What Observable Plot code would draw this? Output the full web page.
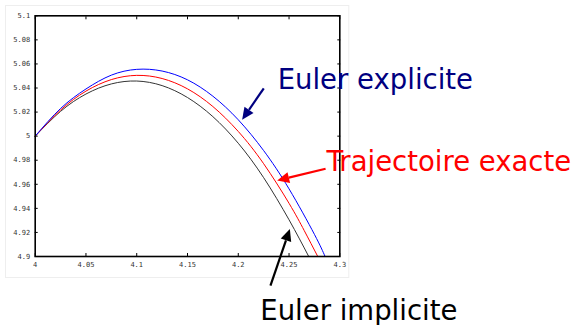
<!DOCTYPE html>
<html>
<head>
<meta charset="utf-8">
<script src="https://cdn.jsdelivr.net/npm/d3@7"></script>
<script src="https://cdn.jsdelivr.net/npm/@observablehq/plot@0.6"></script>
<style>
  html, body { margin: 0; padding: 0; background: #fff; }
  #chart svg { display: block; }
</style>
</head>
<body>
<div id="chart"></div>
<script>
// Data
const xExplicite = [4.000, 4.025, 4.050, 4.075, 4.100, 4.125, 4.150, 4.175, 4.200, 4.225, 4.250, 4.275, 4.2855];
const yExplicite = [5.0000, 5.0230, 5.0392, 5.0507, 5.0555, 5.0541, 5.0468, 5.0332, 5.0136, 4.9880, 4.9562, 4.9184, 4.9000];

const xExacte = [4.000, 4.025, 4.050, 4.075, 4.100, 4.125, 4.150, 4.175, 4.200, 4.225, 4.250, 4.265, 4.2783];
const yExacte = [5.0000, 5.0217, 5.0374, 5.0470, 5.0505, 5.0479, 5.0393, 5.0246, 5.0039, 4.9771, 4.9442, 4.9215, 4.9000];

const xImplicite = [4.000, 4.025, 4.050, 4.075, 4.100, 4.125, 4.150, 4.175, 4.200, 4.225, 4.250, 4.2694];
const yImplicite = [5.0000, 5.0206, 5.0350, 5.0434, 5.0458, 5.0420, 5.0321, 5.0162, 4.9941, 4.9655, 4.9305, 4.9000];

const xTicks = [4, 4.05, 4.1, 4.15, 4.2, 4.25, 4.3];
const yTicks = [4.9, 4.92, 4.94, 4.96, 4.98, 5, 5.02, 5.04, 5.06, 5.08, 5.1];

// Annotations (data coordinates)
const labelTexts = ["Euler explicite", "Trajectoire exacte", "Euler implicite"];
const labelX = [4.2388, 4.2870, 4.2217];
const labelY = [5.0461, 4.9780, 4.8544];
const labelColors = ["#000080", "#ff0000", "#000000"];
const arrowX1 = [4.2256, 4.2865, 4.2322];
const arrowY1 = [5.0392, 4.9725, 4.8753];
const arrowX2 = [4.2043, 4.2388, 4.2513];
const arrowY2 = [5.0133, 4.9628, 4.9225];

const toRows = (xs, ys) => xs.map((x, i) => ({x, y: ys[i]}));
const labels = labelTexts.map((t, i) => ({text: t, x: labelX[i], y: labelY[i], color: labelColors[i]}));
const arrows = labelTexts.map((t, i) => ({x1: arrowX1[i], y1: arrowY1[i], x2: arrowX2[i], y2: arrowY2[i], color: labelColors[i]}));

const fmt = d => String(+d.toFixed(2));
const tickFont = {fontSize: 7, fontFamily: "DejaVu Sans Mono"};

function filledArrows(index, scales, values, dimensions, context) {
  const g = d3.create("svg:g");
  for (const i of index) {
    const X1 = values.x1[i], Y1 = values.y1[i], X2 = values.x2[i], Y2 = values.y2[i];
    const c = arrows[i].color;
    const a = Math.atan2(Y2 - Y1, X2 - X1);
    const L = 12, W = 5.5;
    const bx = X2 - L * Math.cos(a), by = Y2 - L * Math.sin(a);
    g.append("line").attr("x1", X1).attr("y1", Y1).attr("x2", bx).attr("y2", by)
      .attr("stroke", c).attr("stroke-width", 2.2);
    const px = -Math.sin(a), py = Math.cos(a);
    g.append("path")
      .attr("d", `M${X2},${Y2}L${bx + W * px},${by + W * py}L${bx - W * px},${by - W * py}Z`)
      .attr("fill", c);
  }
  return g.node();
}

const chart = Plot.plot({
  width: 579,
  height: 325,
  marginLeft: 34.7,
  marginRight: 239.7,
  marginTop: 15.3,
  marginBottom: 69,
  style: {background: "#fff", overflow: "visible"},
  x: {domain: [4, 4.3]},
  y: {domain: [4.9, 5.1]},
  marks: [
    Plot.frame({stroke: "#eeeeee", strokeWidth: 1, insetLeft: -29.7, insetTop: -10.3, insetRight: -9, insetBottom: -21}),
    Plot.line(toRows(xImplicite, yImplicite), {x: "x", y: "y", stroke: "#333333", strokeWidth: 1, curve: "natural"}),
    Plot.line(toRows(xExacte, yExacte), {x: "x", y: "y", stroke: "#ff0000", strokeWidth: 1, curve: "natural"}),
    Plot.line(toRows(xExplicite, yExplicite), {x: "x", y: "y", stroke: "#0000ff", strokeWidth: 1, curve: "natural"}),
    // inward ticks on all sides
    Plot.axisY(yTicks, {anchor: "left", tickSize: 3, dx: 3, text: null, stroke: "black"}),
    Plot.axisY(yTicks, {anchor: "right", tickSize: 3, dx: -3, text: null, stroke: "black"}),
    Plot.axisX(xTicks, {anchor: "bottom", tickSize: 3, dy: -3, text: null, stroke: "black"}),
    Plot.axisX(xTicks, {anchor: "top", tickSize: 3, dy: 3, text: null, stroke: "black"}),
    // labels
    Plot.axisY(yTicks, {anchor: "left", tickSize: 0, tickPadding: 5, tickFormat: fmt, label: null, fill: "#333", ...tickFont}),
    Plot.axisX(xTicks, {anchor: "bottom", tickSize: 0, tickPadding: 6, tickFormat: fmt, label: null, fill: "#333", ...tickFont}),
    Plot.frame({stroke: "black", strokeWidth: 1.6}),
    Plot.text(labels, {x: "x", y: "y", text: "text", fill: "color", textAnchor: "start", lineAnchor: "middle", fontSize: 27.5, fontFamily: "DejaVu Sans", clip: false}),
    Plot.arrow(arrows, {x1: "x1", y1: "y1", x2: "x2", y2: "y2", stroke: "color", render: filledArrows})
  ]
});
document.getElementById("chart").appendChild(chart);
</script>
</body>
</html>
